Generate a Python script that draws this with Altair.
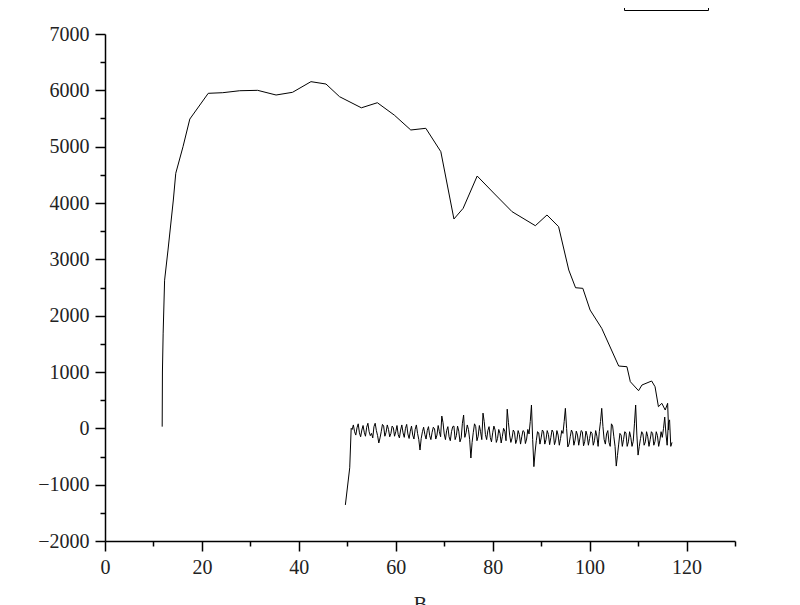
import altair as alt
import pandas as pd

# Main curve (series "C")
main_x = [11.8, 11.85, 12.0, 12.3, 13.0, 14.1, 14.6, 16.1, 17.5, 21.3, 24.3, 27.8, 31.5,
          35.3, 38.7, 42.5, 45.6, 48.4, 52.9, 56.2, 59.7, 63.1, 66.2, 69.3, 72.0, 73.9,
          76.8, 80.4, 84.0, 88.8, 91.2, 93.6, 95.7, 97.1, 98.6, 100.1, 102.5, 106.0,
          107.7, 108.4, 110.1, 110.8, 112.8, 113.5, 114.2, 114.9, 115.6, 116.1, 116.3]
main_y = [30, 1000, 1690, 2630, 3165, 4053, 4527, 5000, 5490, 5947, 5958, 5993, 6000,
          5917, 5965, 6154, 6112, 5887, 5690, 5780, 5560, 5296, 5326, 4911, 3716, 3905,
          4479, 4160, 3846, 3597, 3787, 3580, 2810, 2496, 2485, 2100, 1775, 1106,
          1094, 828, 668, 769, 840, 739, 384, 444, 325, 444, -30]

# Noisy series, half-step samples
noise_x = [49.6, 50.5, 50.8,
           51.0, 51.5, 52.0, 52.5, 53.0, 53.5, 54.0, 54.5, 55.0, 55.5, 56.0, 56.5, 57.0, 57.5,
           58.0, 58.5, 59.0, 59.5, 60.0, 60.5, 61.0, 61.5, 62.0, 62.5, 63.0, 63.5, 64.0, 64.5,
           65.0, 65.5, 66.0, 66.5, 67.0, 67.5, 68.0, 68.5, 69.0, 69.5, 70.0, 70.5, 71.0, 71.5,
           72.0, 72.5, 73.0, 73.5, 74.0, 74.5, 75.0, 75.5, 76.0, 76.5, 77.0, 77.5, 78.0, 78.5,
           79.0, 79.5, 80.0, 80.5, 81.0, 81.5, 82.0, 82.5, 83.0, 83.5, 84.0, 84.5, 85.0, 85.5,
           86.0, 86.5, 87.0, 87.5, 88.0, 88.5, 89.0, 89.5, 90.0, 90.5, 91.0, 91.5, 92.0, 92.5,
           93.0, 93.5, 94.0, 94.5, 95.0, 95.5, 96.0, 96.5, 97.0, 97.5, 98.0, 98.5, 99.0, 99.5,
           100.0, 100.5, 101.0, 101.5, 102.0, 102.5, 103.0, 103.5, 104.0, 104.5, 105.0, 105.5,
           106.0, 106.5, 107.0, 107.5, 108.0, 108.5, 109.0, 109.5, 110.0, 110.5, 111.0, 111.5,
           112.0, 112.5, 113.0, 113.5, 114.0, 114.5, 115.0, 115.5, 116.0, 116.5, 117.0]
noise_y = [-1360, -700, 0,
           -20, -60, 10, -80, -30, -70, 20, -60, -90, 30, -40, -260, -60, 40,
           -70, -20, -90, 10, -60, -110, -30, -80, 0, -100, -50, -120, -20, -90,
           -385, -60, -110, -40, -130, -70, -10, -120, -60, 218, -100, -40, -150, -60,
           40, -130, -50, -170, 236, -80, -20, -527, -70, 30, -140, -60, 270, -110,
           -40, -160, -80, -30, -180, -90, -140, -50, 340, -120, -170, -70, -200, -110,
           -150, -60, -190, -100, 414, -680, -220, -80, -170, -60, -200, -110, -160, -70,
           -210, -120, -180, -90, 355, -330, -150, -80, -210, -120, -170, -60, -230, -130,
           -180, -90, -220, -140, -60, 355, -200, -100, -250, 80, -150, -670,
           -280, -120, -200, -80, -240, -160, -230, 414, -475, -180, -100, -240,
           -150, -200, -90, -230, -130, -210, -160, 200, -300, 150, -250]

# Noisy series, quarter-step samples in between
noise_qx = [51.25, 51.75, 52.25, 52.75, 53.25, 53.75, 54.25, 54.75, 55.25, 55.75,
            56.25, 56.75, 57.25, 57.75, 58.25, 58.75, 59.25, 59.75, 60.25, 60.75,
            61.25, 61.75, 62.25, 62.75, 63.25, 63.75, 64.25, 64.75, 65.25, 65.75,
            66.25, 66.75, 67.25, 67.75, 68.25, 68.75, 69.25, 69.75, 70.25, 70.75,
            71.25, 71.75, 72.25, 72.75, 73.25, 73.75, 74.25, 74.75, 75.25, 75.75,
            76.25, 76.75, 77.25, 77.75, 78.25, 78.75, 79.25, 79.75, 80.25, 80.75,
            81.25, 81.75, 82.25, 82.75, 83.25, 83.75, 84.25, 84.75, 85.25, 85.75,
            86.25, 86.75, 87.25, 87.75, 88.25, 88.75, 89.25, 89.75, 90.25, 90.75,
            91.25, 91.75, 92.25, 92.75, 93.25, 93.75, 94.25, 94.75, 95.25, 95.75,
            96.25, 96.75, 97.25, 97.75, 98.25, 98.75, 99.25, 99.75, 100.25, 100.75,
            101.25, 101.75, 102.25, 102.75, 103.25, 103.75, 104.25, 104.75, 105.25, 105.75,
            106.25, 106.75, 107.25, 107.75, 108.25, 108.75, 109.25, 109.75, 110.25, 110.75,
            111.25, 111.75, 112.25, 112.75, 113.25, 113.75, 114.25, 114.75, 115.25, 115.75,
            116.25, 116.75]
noise_qy = [60, -120, 80, -150, 50, -140, 90, -130, -170, 90,
            -130, -170, 70, -140, 60, -150, 40, -140, 50, -170,
            60, -160, 70, -180, 40, -190, 60, -200, -180, 20,
            -190, 30, -200, 20, -190, 50, -150, 100, -200, 30,
            -220, 30, -200, 40, -240, 90, -160, 60, -200, -250,
            80, -220, 50, -200, 120, -200, 30, -240, 40, -250,
            -20, -260, 0, -220, 100, -250, -30, -270, -40, -280,
            -40, -270, -20, 120, -200, -420, -60, -280, -30, -280,
            -40, -290, -30, -290, -40, -300, -40, 120, 0, -280,
            -30, -300, -50, -300, -40, -310, -50, -300, -60, -300,
            -40, -320, 120, 30, -280, -40, -320, 40, -320, -480,
            -90, -320, -60, -320, -60, -320, 80, -120, -320, -60,
            -300, -60, -320, -60, -300, -60, -320, -60, 0, -100,
            100, -320]

x_ticks = [0, 10, 20, 30, 40, 50, 60, 70, 80, 90, 100, 110, 120, 130]
y_ticks = [-2000, -1500, -1000, -500, 0, 500, 1000, 1500, 2000, 2500, 3000, 3500,
           4000, 4500, 5000, 5500, 6000, 6500, 7000]

noise_df = pd.concat([
    pd.DataFrame({"x": noise_x, "y": noise_y}),
    pd.DataFrame({"x": noise_qx, "y": noise_qy}),
]).sort_values("x")
noise_df["series"] = "noise"
noise_df["legend"] = "C"

df = pd.concat([
    pd.DataFrame({"x": main_x, "y": main_y, "series": "main", "legend": "C"}),
    noise_df,
], ignore_index=True)

FONT = "Liberation Serif"

chart = alt.Chart(df).mark_line(strokeWidth=1).encode(
    x=alt.X("x:Q",
            scale=alt.Scale(domain=[0, 130], nice=False, zero=False),
            axis=alt.Axis(values=x_ticks,
                          labelExpr="(datum.value % 20 === 0 && datum.value <= 120) ? datum.label : ''",
                          title="B", titleY=53, titleBaseline="top",
                          tickSize={"condition": {"test": "datum.value % 20 === 0", "value": 10}, "value": 5},
                          grid=False)),
    y=alt.Y("y:Q",
            scale=alt.Scale(domain=[-2000, 7000], nice=False, zero=False),
            axis=alt.Axis(values=y_ticks, format="d",
                          labelExpr="datum.value % 1000 === 0 ? datum.label : ''",
                          title="C", titleX=-99, titleY=245, titleAngle=-90,
                          tickSize={"condition": {"test": "datum.value % 1000 === 0", "value": 10}, "value": 5},
                          grid=False)),
    detail="series:N",
    order="x:Q",
    color=alt.Color("legend:N", scale=alt.Scale(domain=["C"], range=["black"]),
                    legend=alt.Legend(orient="none", legendX=519, legendY=-72, title=None,
                                      strokeColor="black", padding=5, symbolType="stroke",
                                      symbolSize=3000, symbolStrokeWidth=1,
                                      labelFont=FONT, labelFontSize=20, labelColor="black")),
).properties(
    width=630, height=507,
    autosize=alt.AutoSizeParams(type="none"),
    padding={"left": 97, "top": 26, "right": 40, "bottom": 70},
).configure_view(stroke=None).configure_axis(
    domainColor="black", domainWidth=1.5, tickColor="black", tickWidth=1.5,
    labelFont=FONT, labelFontSize=20, labelColor="#222", labelPadding=6,
    titleFont=FONT, titleFontSize=20, titleColor="#222", titleFontWeight="normal",
    labelFlush=False, labelOverlap=False,
)

chart.save("out.html", embed_options={"renderer": "svg", "actions": False})
